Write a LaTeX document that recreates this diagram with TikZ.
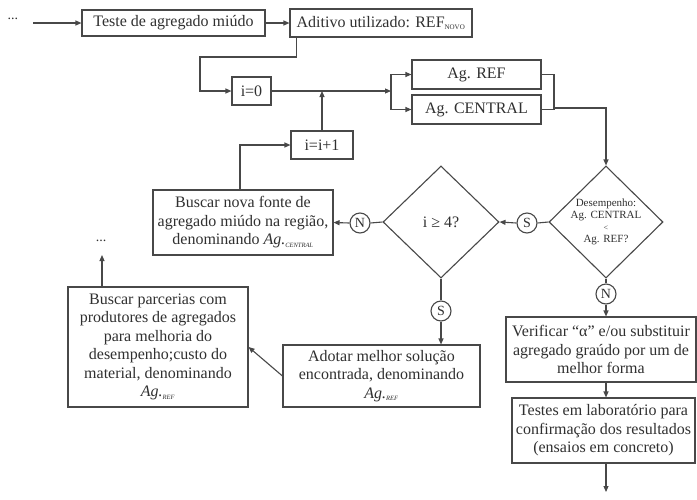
\documentclass[tikz,border=0pt]{standalone}
\usepackage{fontspec}
\setmainfont{Liberation Serif}
\usetikzlibrary{shapes.geometric,arrows.meta,calc}
\definecolor{lncol}{HTML}{484848}
\definecolor{txcol}{HTML}{303030}
\begin{document}
\begin{tikzpicture}[x=1pt,y=-1pt,
 box/.style={draw=lncol,line width=1.1pt,inner sep=0pt,align=center,text=txcol,font=\fontsize{16}{18.5}\selectfont},
 conn/.style={draw=lncol,line width=1.1pt},
 arr/.style={draw=lncol,line width=1.1pt,-{Triangle[length=6pt,width=5pt]}},
 circ/.style={circle,draw=lncol,line width=1.1pt,minimum size=20pt,inner sep=0pt,text=txcol,font=\fontsize{14}{14}\selectfont},
 dia/.style={diamond,draw=lncol,line width=1.1pt,inner sep=0pt},
 plain/.style={text=txcol,inner sep=0pt,align=center}
]
\useasboundingbox (0,0) rectangle (697,499);
\fill[white] (0,0) rectangle (697,499);

% boxes
\node[box,minimum width=183pt,minimum height=26pt] (teste) at (173.5,23) {Teste de agregado miúdo};
\node[box,minimum width=182pt,minimum height=28pt] (aditivo) at (381,23) {Aditivo utilizado: REF\textsubscript{\fontsize{7}{7}\selectfont NOVO}};
\node[box,minimum width=39pt,minimum height=28pt] (i0) at (251.5,91) {i=0};
\node[box,minimum width=129pt,minimum height=29pt] (agref) at (476.5,74.5) {Ag. REF};
\node[box,minimum width=129pt,minimum height=29pt] (agcen) at (476.5,109.5) {Ag. CENTRAL};
\node[box,minimum width=62pt,minimum height=28pt] (iinc) at (322,145) {i=i+1};
\node[box,minimum width=180pt,minimum height=65pt] (busca) at (243,222.5) {Buscar nova fonte de\\agregado miúdo na região,\\denominando \textit{Ag.}\textsubscript{\fontsize{6.5}{7}\selectfont\textit{CENTRAL}}};
\node[box,minimum width=190pt,minimum height=65pt] (verif) at (601,349.5) {Verificar “α” e/ou substituir\\agregado graúdo por um de\\melhor forma};
\node[box,minimum width=183pt,minimum height=65pt] (testes) at (603.5,430.5) {Testes em laboratório para\\confirmação dos resultados\\(ensaios em concreto)};
\node[box,minimum width=197pt,minimum height=62pt] (adotar) at (381.5,376) {Adotar melhor solução\\encontrada, denominando\\\textit{Ag.}\textsubscript{\fontsize{6.5}{7}\selectfont\textit{REF}}};
\node[box,minimum width=180pt,minimum height=120pt] (parc) at (158,347) {Buscar parcerias com\\produtores de agregados\\para melhoria do\\desempenho;custo do\\material, denominando\\\textit{Ag.}\textsubscript{\fontsize{6.5}{7}\selectfont\textit{REF}}};

% diamonds
\node[dia,minimum width=116pt,minimum height=112pt] (d1) at (441,222) {};
\node[plain,font=\fontsize{16}{18}\selectfont] (d1t) at (d1.center) {i ≥ 4?};
\node[dia,minimum width=114pt,minimum height=112pt] (d2) at (606,222) {};
\node[plain,font=\fontsize{11}{12}\selectfont] (d2t) at (d2.center) {Desempenho:\\Ag. CENTRAL\\{\fontsize{8}{8}\selectfont <}\\Ag. REF?};

% circles
\node[circ] (c1) at (360,223) {N};
\node[circ] (c2) at (527,223) {S};
\node[circ] (c3) at (606,294) {N};
\node[circ] (c4) at (441,311) {S};

% dots
\node[plain,font=\fontsize{14}{14}\selectfont] (dots1) at (13,19) {...};
\node[plain,font=\fontsize{14}{14}\selectfont] (dots2) at (101,241) {...};

% coordinates
\coordinate (s0) at (33,23);
\coordinate (k1) at (200,57);
\coordinate (br) at (391,91);
\coordinate (m1) at (554,74.5);
\coordinate (m2) at (554,108);
\coordinate (j1) at (322,91);
\coordinate (p2) at (102,255);
\coordinate (e1) at (606,492);

% connectors
\draw[arr] (s0) -- (teste.west);
\draw[arr] (teste.east) -- (aditivo.west);
\draw[arr] ($(aditivo.south west)+(7,0)$) |- (k1) |- (i0.west);
\draw[arr] (i0.east) -- (br);
\draw[arr] (br) |- (agref.west);
\draw[arr] (br) |- (agcen.west);
\draw[conn] (agref.east) -- (m1) -- (m1 |- agcen.east) -- (agcen.east);
\draw[arr] (m2) -| (d2.north);
\draw[arr] (iinc.north) -- (j1);
\draw[arr] ($(busca.north)+(-3,0)$) |- (iinc.west);
\draw[conn] (d2.west) -- (c2.east);
\draw[arr] (c2.west) -- (d1.east);
\draw[conn] (d1.west) -- (c1.east);
\draw[arr] (c1.west) -- (busca.east);
\draw[conn] (d2.south) -- (c3.north);
\draw[arr] (c3.south) -- (c3 |- verif.north);
\draw[conn] (d1.south) -- (c4.north);
\draw[arr] (c4.south) -- (c4 |- adotar.north);
\draw[arr] (adotar.west) -- (parc.east);
\draw[arr] (parc.north -| p2) -- (p2);
\draw[arr] (verif.south -| e1) -- (testes.north -| e1);
\draw[arr] (testes.south -| e1) -- (e1);
\end{tikzpicture}
\end{document}
